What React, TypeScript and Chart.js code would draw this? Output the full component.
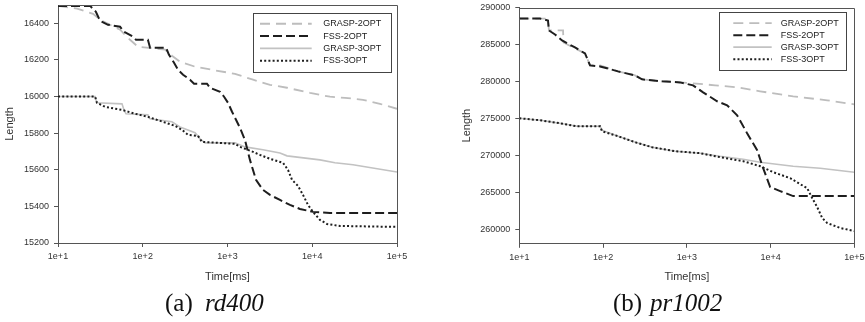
import React, { useEffect, useRef } from 'react';
import { Chart, registerables } from 'chart.js';

Chart.register(...registerables);

// ---------- shared ----------
const seriesNames = ['GRASP-2OPT', 'FSS-2OPT', 'GRASP-3OPT', 'FSS-3OPT'];
const xTickValues = [10, 100, 1000, 10000, 100000];
const xTitle = 'Time[ms]';
const yTitle = 'Length';

// ---------- (a) rd400 ----------
const rdGrasp2Time = [10, 12, 16.8, 25.9, 31.3, 41.1, 54, 70.8, 87.9, 183, 221, 275, 414, 656, 1225, 2000, 3170, 5035, 9400, 16180, 24320, 39700, 63000, 100000];
const rdGrasp2Len = [16495, 16490, 16480, 16452, 16420, 16392, 16365, 16310, 16272, 16256, 16223, 16190, 16163, 16146, 16124, 16092, 16064, 16048, 16020, 15999, 15993, 15982, 15960, 15933];

const rdFss2Time = [10, 23.9, 28.0, 31.3, 38.9, 54, 60.1, 76.7, 83.2, 115, 122, 188, 204, 234, 261, 299, 361, 403, 573, 622, 817, 911, 1014, 1131, 1260, 1403, 1607, 1841, 2168, 2624, 3170, 4159, 5458, 7161, 10210, 16180, 100000];
const rdFss2Len = [16495, 16495, 16463, 16414, 16392, 16381, 16354, 16327, 16310, 16310, 16267, 16267, 16228, 16185, 16146, 16119, 16092, 16070, 16070, 16048, 16026, 15999, 15966, 15917, 15873, 15829, 15763, 15654, 15545, 15490, 15463, 15435, 15408, 15386, 15370, 15364, 15364];

const rdGrasp3Time = [10, 27.4, 28.8, 56.9, 60.1, 63.4, 115, 122, 221, 275, 414, 474, 543, 1225, 1607, 2624, 4159, 5035, 12330, 18530, 30270, 100000];
const rdGrasp3Len = [16000, 16000, 15966, 15960, 15927, 15906, 15900, 15878, 15862, 15834, 15802, 15769, 15747, 15747, 15725, 15709, 15692, 15676, 15654, 15638, 15627, 15588];

const rdFss3Time = [10, 27.4, 28.8, 35.9, 56.9, 81.1, 115, 160, 240, 290, 342, 449, 500, 1225, 1403, 2000, 2415, 3170, 4520, 5180, 5770, 6790, 7780, 8910, 10210, 12330, 14930, 21240, 100000];
const rdFss3Len = [16000, 16000, 15966, 15944, 15927, 15906, 15889, 15867, 15840, 15818, 15791, 15785, 15752, 15742, 15725, 15698, 15681, 15660, 15638, 15599, 15545, 15512, 15463, 15408, 15370, 15326, 15304, 15293, 15288];

const rdYMin = 15200;
const rdYMax = 16500;
const rdYTicks = [15200, 15400, 15600, 15800, 16000, 16200, 16400];

// ---------- (b) pr1002 ----------
const prGrasp2Time = [10, 20.3, 22.0, 22.6, 33.3, 33.7, 46.2, 60.9, 69.9, 92.1, 151, 241, 292, 507, 832, 1189, 2179, 3990, 7510, 18620, 47530, 100000];
const prGrasp2Len = [288500, 288500, 288240, 286890, 286890, 285270, 284460, 283780, 282160, 282160, 281350, 280810, 280270, 280000, 279860, 279730, 279460, 279190, 278650, 277970, 277430, 276890];

const prFss2Time = [10, 17.7, 22.0, 22.6, 26.7, 32.4, 46.2, 60.9, 69.9, 92.1, 151, 241, 292, 507, 832, 1189, 1566, 2302, 3030, 3990, 5250, 6920, 8160, 9890, 13030, 18620, 100000];
const prFss2Len = [288500, 288500, 288240, 286890, 286350, 285540, 284590, 283780, 282160, 282020, 281350, 280810, 280270, 280000, 279860, 279460, 278510, 277300, 276760, 275400, 272970, 270680, 268240, 265680, 265140, 264460, 264460];

const prGrasp3Time = [10, 17.7, 30.6, 48.5, 92.1, 97.3, 151, 241, 385, 725, 1442, 2500, 4710, 7510, 18620, 39180, 100000];
const prGrasp3Len = [275000, 274730, 274320, 273920, 273920, 273380, 272570, 271760, 271080, 270540, 270270, 269860, 269460, 269050, 268510, 268240, 267700];

const prFss3Time = [10, 17.7, 30.6, 48.5, 92.1, 97.3, 151, 241, 385, 725, 1442, 2500, 4710, 7510, 10740, 17150, 22590, 27370, 31420, 36060, 41400, 47530, 67920, 100000];
const prFss3Len = [275000, 274730, 274320, 273920, 273920, 273240, 272570, 271760, 271080, 270540, 270270, 269730, 269190, 268510, 267700, 266890, 266080, 265540, 264190, 262970, 261490, 260810, 260140, 259730];

const prYMin = 258000;
const prYMax = 290000;
const prYTicks = [260000, 265000, 270000, 275000, 280000, 285000, 290000];

// ---------- styling ----------
const SANS = "'Liberation Sans', Arial, Helvetica, sans-serif";
const SERIF = "'Liberation Serif', 'Times New Roman', serif";
const AXIS_COLOR = '#555';
const TEXT_COLOR = '#333';

const lineStyles = [
  { borderColor: '#bdbdbd', borderWidth: 1.8, borderDash: [10, 6], order: 2 },
  { borderColor: '#1e1e1e', borderWidth: 2, borderDash: [9, 4], order: 0 },
  { borderColor: '#c2c2c2', borderWidth: 1.6, borderDash: [], order: 2 },
  { borderColor: '#1e1e1e', borderWidth: 2, borderDash: [2, 2.2], order: 0 },
];

const toPoints = (xs: number[], ys: number[]) => xs.map((x, i) => ({ x, y: ys[i] }));

type Spec = {
  width: number;
  height: number;
  chartLeft: number;
  chartRight: number;
  chartTop: number;
  chartBottom: number;
  yTitlePad: number;
  yMin: number;
  yMax: number;
  yTicks: number[];
  series: { x: number; y: number }[][];
  legend: { x: number; y: number; w: number; h: number; lx0: number; lx1: number; tx: number; gap: number };
};

const rdSpec: Spec = {
  width: 430,
  height: 290,
  chartLeft: 58,
  chartRight: 397,
  chartTop: 5,
  chartBottom: 243,
  yTitlePad: 3.4,
  yMin: rdYMin,
  yMax: rdYMax,
  yTicks: rdYTicks,
  series: [
    toPoints(rdGrasp2Time, rdGrasp2Len),
    toPoints(rdFss2Time, rdFss2Len),
    toPoints(rdGrasp3Time, rdGrasp3Len),
    toPoints(rdFss3Time, rdFss3Len),
  ],
  legend: { x: 253.3, y: 12.7, w: 138.4, h: 59, lx0: 260, lx1: 311.7, tx: 323.3, gap: 12.3 },
};

const prSpec: Spec = {
  width: 435,
  height: 290,
  chartLeft: 89.3,
  chartRight: 424.3,
  chartTop: 7.5,
  chartBottom: 243.8,
  yTitlePad: 30,
  yMin: prYMin,
  yMax: prYMax,
  yTicks: prYTicks,
  series: [
    toPoints(prGrasp2Time, prGrasp2Len),
    toPoints(prFss2Time, prFss2Len),
    toPoints(prGrasp3Time, prGrasp3Len),
    toPoints(prFss3Time, prFss3Len),
  ],
  legend: { x: 289.3, y: 12.3, w: 127.4, h: 57.7, lx0: 303.3, lx1: 341.7, tx: 350.7, gap: 12 },
};

function makePlugins(spec: Spec) {
  const frame = {
    id: 'frame',
    afterDatasetsDraw(chart: any) {
      const { ctx, chartArea: a } = chart;
      ctx.save();
      ctx.strokeStyle = AXIS_COLOR;
      ctx.lineWidth = 1;
      ctx.setLineDash([]);
      ctx.beginPath();
      const l = Math.round(a.left) + 0.5;
      const r = Math.round(a.right) + 0.5;
      const t = Math.round(a.top) + 0.5;
      const b = Math.round(a.bottom) + 0.5;
      ctx.moveTo(l, t);
      ctx.lineTo(r, t);
      ctx.lineTo(r, b);
      ctx.stroke();
      ctx.restore();
    },
  };
  const boxLegend = {
    id: 'boxLegend',
    afterDraw(chart: any) {
      const ctx = chart.ctx;
      const L = spec.legend;
      ctx.save();
      ctx.fillStyle = '#ffffff';
      ctx.fillRect(L.x, L.y, L.w, L.h);
      ctx.strokeStyle = '#444';
      ctx.lineWidth = 1;
      ctx.setLineDash([]);
      ctx.strokeRect(Math.round(L.x) + 0.5, Math.round(L.y) + 0.5, Math.round(L.w), Math.round(L.h));
      chart.data.datasets.forEach((ds: any, i: number) => {
        const yy = L.y + L.h / 2 + (i - 1.5) * L.gap;
        ctx.beginPath();
        ctx.strokeStyle = ds.borderColor;
        ctx.lineWidth = ds.borderWidth;
        ctx.lineCap = 'butt';
        ctx.setLineDash(ds.borderDash || []);
        ctx.moveTo(L.lx0, yy);
        ctx.lineTo(L.lx1, yy);
        ctx.stroke();
        ctx.setLineDash([]);
        ctx.fillStyle = '#222';
        ctx.font = `9px ${SANS}`;
        ctx.textBaseline = 'middle';
        ctx.textAlign = 'left';
        ctx.fillText(ds.label, L.tx, yy);
      });
      ctx.restore();
    },
  };
  return [frame, boxLegend];
}

function ChartPanel({ spec, left }: { spec: Spec; left: number }) {
  const ref = useRef<HTMLCanvasElement | null>(null);
  useEffect(() => {
    if (!ref.current) return;
    const xAxisHeight = spec.height - spec.chartBottom;
    const chart = new Chart(ref.current, {
      type: 'line',
      data: {
        datasets: spec.series.map((pts, i) => ({
          label: seriesNames[i],
          data: pts,
          ...lineStyles[i],
          borderCapStyle: 'butt',
          fill: false,
          pointRadius: 0,
          tension: 0,
        })) as any,
      },
      options: {
        responsive: false,
        animation: false,
        devicePixelRatio: 1,
        events: [],
        layout: {
          padding: { top: spec.chartTop, right: spec.width - spec.chartRight, left: 0, bottom: 0 },
        },
        plugins: {
          legend: { display: false },
          tooltip: { enabled: false },
        },
        scales: {
          x: {
            type: 'logarithmic',
            min: 10,
            max: 100000,
            afterBuildTicks: (ax: any) => {
              ax.ticks = xTickValues.map((v) => ({ value: v }));
            },
            afterFit: (s: any) => {
              s.height = xAxisHeight;
              s.paddingLeft = 0;
              s.paddingRight = 0;
            },
            ticks: {
              autoSkip: false,
              maxRotation: 0,
              padding: 4,
              color: TEXT_COLOR,
              font: { family: SANS, size: 9 },
              callback: (v: any) => '1e+' + Math.round(Math.log10(Number(v))),
            },
            grid: { drawOnChartArea: false, drawTicks: true, tickLength: 4, color: AXIS_COLOR, lineWidth: 1 },
            border: { display: true, color: AXIS_COLOR, width: 1 },
            title: {
              display: true,
              text: xTitle,
              color: TEXT_COLOR,
              font: { family: SANS, size: 11 },
              padding: { top: 0, bottom: 6 },
            },
          },
          y: {
            type: 'linear',
            min: spec.yMin,
            max: spec.yMax,
            afterBuildTicks: (ax: any) => {
              ax.ticks = spec.yTicks.map((v) => ({ value: v }));
            },
            afterFit: (s: any) => {
              s.width = spec.chartLeft;
              s.paddingTop = 0;
              s.paddingBottom = 0;
            },
            ticks: {
              autoSkip: false,
              padding: 5,
              color: TEXT_COLOR,
              font: { family: SANS, size: 9 },
              callback: (v: any) => String(v),
            },
            grid: { drawOnChartArea: false, drawTicks: true, tickLength: 4, color: AXIS_COLOR, lineWidth: 1 },
            border: { display: true, color: AXIS_COLOR, width: 1 },
            title: {
              display: true,
              text: yTitle,
              color: TEXT_COLOR,
              font: { family: SANS, size: 11 },
              padding: { top: spec.yTitlePad, bottom: 0 },
            },
          },
        },
      } as any,
      plugins: makePlugins(spec) as any,
    });
    return () => chart.destroy();
  }, [spec]);
  return (
    <canvas
      ref={ref}
      width={spec.width}
      height={spec.height}
      style={{ position: 'absolute', left, top: 0, width: spec.width, height: spec.height }}
    />
  );
}

function Caption({ tag, name, tagLeft, nameLeft }: { tag: string; name: string; tagLeft: number; nameLeft: number }) {
  const base: React.CSSProperties = {
    position: 'absolute',
    top: 290,
    fontFamily: SERIF,
    fontSize: 25,
    lineHeight: '25px',
    color: '#111',
    whiteSpace: 'nowrap',
  };
  return (
    <>
      <span style={{ ...base, left: tagLeft }}>{tag}</span>
      <span style={{ ...base, left: nameLeft, fontStyle: 'italic' }}>{name}</span>
    </>
  );
}

export default function App() {
  return (
    <div
      style={{
        position: 'absolute',
        left: 0,
        top: 0,
        width: 865,
        height: 322,
        background: '#ffffff',
        overflow: 'hidden',
      }}
    >
      <ChartPanel spec={rdSpec} left={0} />
      <ChartPanel spec={prSpec} left={430} />
      <Caption tag="(a)" name="rd400" tagLeft={165} nameLeft={205} />
      <Caption tag="(b)" name="pr1002" tagLeft={613} nameLeft={650} />
    </div>
  );
}
